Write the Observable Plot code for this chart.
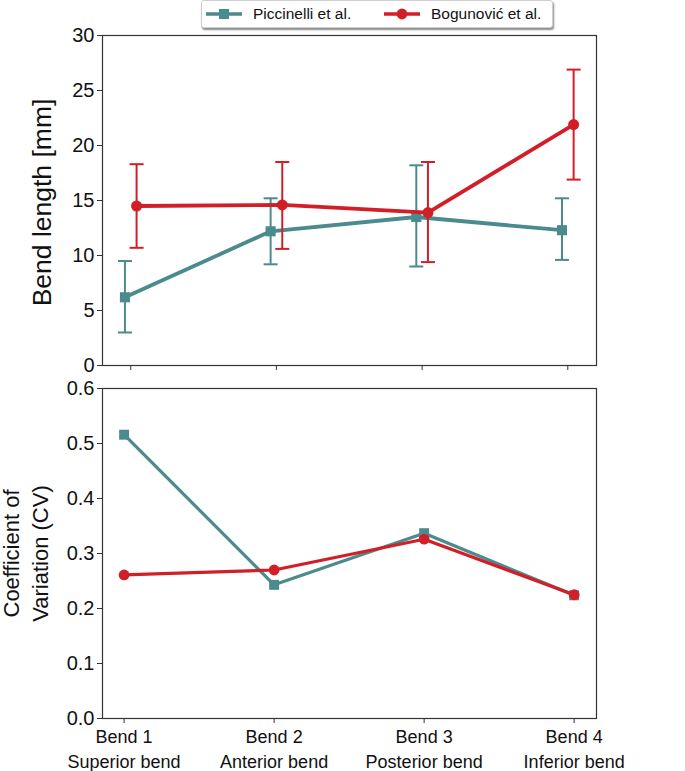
<!DOCTYPE html>
<html>
<head>
<meta charset="utf-8">
<script src="https://cdn.jsdelivr.net/npm/d3@7"></script>
<script src="https://cdn.jsdelivr.net/npm/@observablehq/plot@0.6"></script>
<style>
  html, body { margin: 0; padding: 0; background: #fff; }
  #wrap { position: relative; width: 685px; height: 771px; font-family: "Liberation Sans", Arial, sans-serif; }
  #top, #bottom { position: absolute; left: 0; }
  #top { top: 0; }
  #bottom { top: 380px; }
  #legend { position: absolute; left: 201px; top: 0px; width: 350px; height: 26px; background: #fff;
            border: 1px solid #cfcfcf; border-radius: 3px; box-shadow: 1px 2px 2px #8a8a8a; z-index: 5; }
  .item { position: absolute; top: 0; height: 26px; display: flex; align-items: center; white-space: nowrap;
          font-family: "Liberation Sans", Arial, sans-serif; font-size: 15.5px; color: #111; }
  .item svg { margin-right: 11px; }
  [aria-label="ylabel"] text { letter-spacing: 1.5px; }
</style>
</head>
<body>
<div id="wrap">
  <div id="top"></div>
  <div id="bottom"></div>
  <div id="legend"></div>
</div>
<script>
// ---------- data ----------
const categories = ["Bend 1", "Bend 2", "Bend 3", "Bend 4"];
const subLabels = ["Superior bend", "Anterior bend", "Posterior bend", "Inferior bend"];
const series = ["Piccinelli et al.", "Bogunović et al."];
const colors = ["#4b8a8d", "#d21f27"];
const symbols = ["square", "circle"];

const piccMean = [6.2, 12.2, 13.5, 12.3];
const piccLow  = [3.0, 9.2, 9.0, 9.6];
const piccHigh = [9.5, 15.2, 18.2, 15.2];

const bogMean = [14.5, 14.6, 13.9, 21.9];
const bogLow  = [10.7, 10.6, 9.4, 16.9];
const bogHigh = [18.3, 18.5, 18.5, 26.9];

const piccCV = [0.516, 0.243, 0.337, 0.224];
const bogCV  = [0.261, 0.270, 0.326, 0.225];

const yTicksTop = [0, 5, 10, 15, 20, 25, 30];
const yTicksCV = [0, 0.1, 0.2, 0.3, 0.4, 0.5, 0.6];

// ---------- table ----------
const means = [piccMean, bogMean], lows = [piccLow, bogLow], highs = [piccHigh, bogHigh], cvs = [piccCV, bogCV];
const dodge = [-0.04, 0.04];
const table = [];
series.forEach((s, k) => categories.forEach((c, i) => table.push({
  i, cat: c, series: s, k,
  mean: means[k][i], low: lows[k][i], high: highs[k][i], cv: cvs[k][i],
  pos: i + dodge[k]
})));
const bySeries = series.map((s) => table.filter((d) => d.series === s));

const cap = {
  draw(context, size) {
    const r = Math.sqrt(size / Math.PI);
    context.moveTo(-r, 0);
    context.lineTo(r, 0);
  }
};

const frameStroke = "#333";
const tickFont = "Liberation Sans";

// ---------- top panel ----------
const topMarks = [];
bySeries.forEach((data, k) => {
  topMarks.push(
    Plot.ruleX(data, {x: "pos", y1: "low", y2: "high", stroke: colors[k], strokeWidth: 2}),
    Plot.dot(data, {x: "pos", y: "low", symbol: cap, r: 7, stroke: colors[k], strokeWidth: 2, fill: "none"}),
    Plot.dot(data, {x: "pos", y: "high", symbol: cap, r: 7, stroke: colors[k], strokeWidth: 2, fill: "none"}),
    Plot.line(data, {x: "pos", y: "mean", stroke: colors[k], strokeWidth: 3.8}),
    Plot.dot(data, {x: "pos", y: "mean", symbol: symbols[k], r: k === 0 ? 5.7 : 5.5, fill: colors[k], stroke: "none"})
  );
});

const topPlot = Plot.plot({
  width: 685, height: 380,
  marginLeft: 102, marginRight: 89, marginTop: 35, marginBottom: 15,
  style: {background: "#fff", color: "#111", overflow: "visible"},
  x: {type: "linear", domain: [-0.194, 3.197]},
  y: {domain: [0, 30]},
  marks: [
    Plot.axisX({ticks: [0, 1, 2, 3], tickFormat: () => "", tickSize: 5, stroke: frameStroke, label: null}),
    Plot.axisY({ticks: yTicksTop, tickSize: 5, tickPadding: 3, stroke: frameStroke, fontSize: 20, fontFamily: tickFont, label: null}),
    Plot.text(["Bend length [mm]"], {frameAnchor: "left", rotate: -90, dx: -60, dy: 2, fontSize: 26.5, fontFamily: tickFont,
      textAnchor: "middle", lineAnchor: "middle", fill: "#111", ariaLabel: "ylabel"}),
    ...topMarks,
    Plot.frame({stroke: frameStroke, strokeWidth: 1.2})
  ]
});
document.getElementById("top").append(topPlot);

// ---------- bottom panel ----------
const botMarks = [];
bySeries.forEach((data, k) => {
  botMarks.push(
    Plot.line(data, {x: "i", y: "cv", stroke: colors[k], strokeWidth: 3.2}),
    Plot.dot(data, {x: "i", y: "cv", symbol: symbols[k], r: k === 0 ? 5.6 : 5.4, fill: colors[k], stroke: "none"})
  );
});

const botPlot = Plot.plot({
  width: 685, height: 391,
  marginLeft: 102, marginRight: 89, marginTop: 8, marginBottom: 53,
  style: {background: "#fff", color: "#111", overflow: "visible"},
  x: {type: "linear", domain: [-0.144, 3.149]},
  y: {domain: [0, 0.6]},
  marks: [
    Plot.axisX({ticks: [0, 1, 2, 3], tickFormat: (i) => categories[i] + "\n" + subLabels[i], tickSize: 5, tickPadding: 1,
                stroke: frameStroke, fontSize: 18, fontFamily: tickFont, lineHeight: 1.42, label: null}),
    Plot.axisY({ticks: yTicksCV, tickFormat: d3.format(".1f"), tickSize: 5, tickPadding: 3, stroke: frameStroke, fontSize: 20, fontFamily: tickFont, label: null}),
    Plot.text(["Coefficient of\nVariation (CV)"], {frameAnchor: "left", rotate: -90, dx: -78, fontSize: 22, fontFamily: tickFont,
      textAnchor: "middle", lineAnchor: "middle", lineHeight: 1.3, fill: "#111"}),
    ...botMarks,
    Plot.frame({stroke: frameStroke, strokeWidth: 1.2})
  ]
});
document.getElementById("bottom").append(botPlot);

// ---------- legend ----------
const legend = document.getElementById("legend");
const itemLeft = [4, 182];
series.forEach((s, k) => {
  const div = document.createElement("div");
  div.className = "item";
  div.style.left = itemLeft[k] + "px";
  const sw = d3.create("svg").attr("width", 36).attr("height", 14);
  sw.append("line").attr("x1", 0).attr("x2", 36).attr("y1", 7).attr("y2", 7)
    .attr("stroke", colors[k]).attr("stroke-width", 3.5);
  if (symbols[k] === "square") {
    sw.append("rect").attr("x", 13).attr("y", 2).attr("width", 10).attr("height", 10).attr("fill", colors[k]);
  } else {
    sw.append("circle").attr("cx", 18).attr("cy", 7).attr("r", 5.4).attr("fill", colors[k]);
  }
  div.append(sw.node());
  const span = document.createElement("span");
  span.textContent = s;
  div.append(span);
  legend.append(div);
});
</script>
</body>
</html>
